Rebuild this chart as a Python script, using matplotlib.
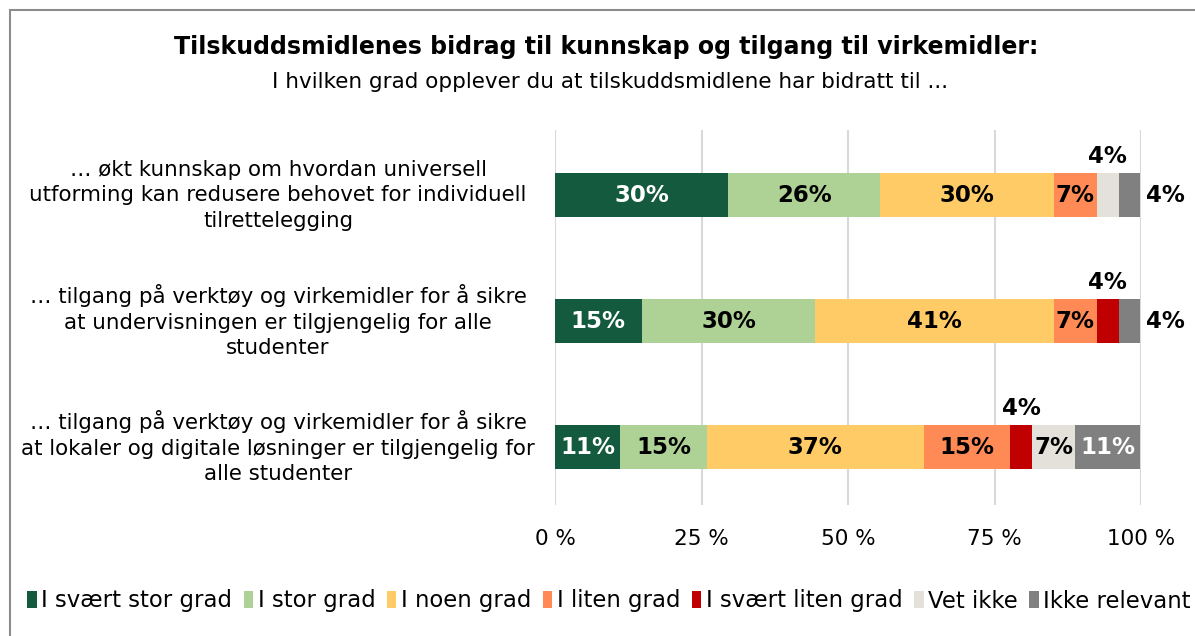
import matplotlib
matplotlib.use("Agg")
import matplotlib.pyplot as plt
from matplotlib.patches import Rectangle
import matplotlib.transforms as mtransforms
import numpy as np

plt.rcParams['font.family'] = ['DejaVu Sans']

title = "Tilskuddsmidlenes bidrag til kunnskap og tilgang til virkemidler:"
subtitle = "I hvilken grad opplever du at tilskuddsmidlene har bidratt til ..."

categories = [
    "… økt kunnskap om hvordan universell\nutforming kan redusere behovet for individuell\ntilrettelegging",
    "… tilgang på verktøy og virkemidler for å sikre\nat undervisningen er tilgjengelig for alle\nstudenter",
    "… tilgang på verktøy og virkemidler for å sikre\nat lokaler og digitale løsninger er tilgjengelig for\nalle studenter",
]

series_names = ["I svært stor grad", "I stor grad", "I noen grad", "I liten grad",
                "I svært liten grad", "Vet ikke", "Ikke relevant"]

# percentages per category (order: categories above)
svaert_stor = [29.6, 14.8, 11.1]
stor = [25.9, 29.6, 14.8]
noen = [29.6, 40.7, 37.0]
liten = [7.4, 7.4, 14.8]
svaert_liten = [0.0, 3.7, 3.7]
vet_ikke = [3.7, 0.0, 7.4]
ikke_relevant = [3.7, 3.7, 11.1]

series_values = [svaert_stor, stor, noen, liten, svaert_liten, vet_ikke, ikke_relevant]

colors = ["#145A3F", "#AED296", "#FFCB66", "#FF8A55", "#C00000", "#E4E1DA", "#808080"]
text_colors = ["white", "black", "black", "black", "black", "black", "white"]

xticks = [0, 25, 50, 75, 100]
xticklabels = ["0 %", "25 %", "50 %", "75 %", "100 %"]

W, H = 1195, 636
fig = plt.figure(figsize=(W / 100, H / 100), dpi=100)

# frame
fig.patches.append(Rectangle((10 / W, -0.1), 1.2, 1 - 10 / H + 0.1, transform=fig.transFigure,
                             fill=False, edgecolor="#8C8C8C", linewidth=1.5))

ax = fig.add_axes([555 / W, 1 - 505 / H, 586 / W, 375 / H])

y = np.arange(len(categories))
bar_h = 0.35
lab_fs = 16.5
left = np.zeros(len(categories))
for s, (name, vals) in enumerate(zip(series_names, series_values)):
    vals = np.array(vals)
    ax.barh(y, vals, left=left, height=bar_h, color=colors[s], label=name, zorder=3)
    for i, v in enumerate(vals):
        if v <= 0:
            continue
        lbl = f"{v:.0f}%"
        cx = left[i] + v / 2
        if v < 5:
            if s == len(series_names) - 1:
                ax.text(left[i] + v + 1.0, y[i], lbl, ha="left", va="center",
                        fontsize=lab_fs, fontweight="bold", color="black", zorder=4)
            else:
                ax.text(cx, y[i] - bar_h / 2 - 0.04, lbl, ha="center", va="bottom",
                        fontsize=lab_fs, fontweight="bold", color="black", zorder=4)
        else:
            ax.text(cx, y[i], lbl, ha="center", va="center", fontsize=lab_fs,
                    fontweight="bold", color=text_colors[s], zorder=4)
    left += vals

ax.set_xlim(0, 100)
ax.set_ylim(2.46, -0.52)
ax.set_xticks(xticks)
ax.set_xticklabels(xticklabels, fontsize=15.5)
ax.tick_params(axis="x", length=0, pad=17)
ax.set_yticks([])
ax.grid(axis="x", color="#D9D9D9", linewidth=1.5, zorder=0)
for sp in ax.spines.values():
    sp.set_visible(False)

trans = mtransforms.blended_transform_factory(ax.transAxes, ax.transData)
for i, c in enumerate(categories):
    ax.text((278 - 555) / 586, y[i], c, transform=trans, ha="center", va="center",
            multialignment="center", fontsize=15.4, linespacing=1.33)

fig.text(606 / W, 1 - 47 / H, title, ha="center", va="center", fontsize=17, fontweight="bold")
fig.text(610 / W, 1 - 82 / H, subtitle, ha="center", va="center", fontsize=15.5)

fig.legend(loc="center", bbox_to_anchor=(609 / W, 1 - 601 / H), ncol=7, frameon=False,
           fontsize=16.4, handlelength=0.42, handleheight=0.75, handletextpad=0.2,
           columnspacing=0.5, borderaxespad=0)

fig.savefig("out.png", dpi=100)
